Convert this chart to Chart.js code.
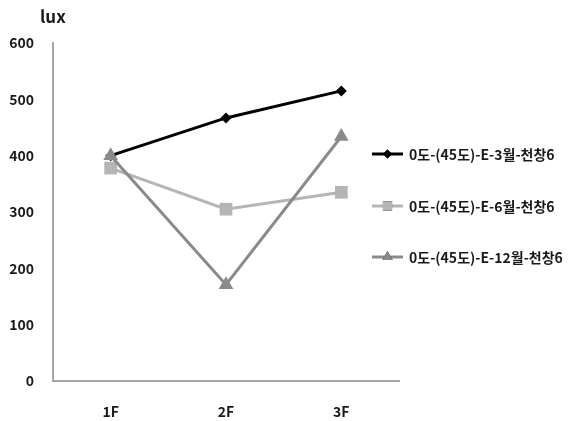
<!DOCTYPE html>
<html>
<head>
<meta charset="utf-8">
<script src="https://cdn.jsdelivr.net/npm/chart.js@4/dist/chart.umd.min.js"></script>
<style>
  html, body { margin: 0; padding: 0; background: #fff; }
  #wrap { width: 574px; height: 421px; position: relative; }
</style>
</head>
<body>
<div id="wrap"><canvas id="c" width="574" height="421"></canvas></div>
<script>
// Floors along the x axis
const floors = ['1F', '2F', '3F'];

// Illuminance (lux) per floor for each month
const march = [400, 467, 515];
const june = [378, 305, 335];
const december = [400, 171, 434];

const seriesNames = [
  '0도-(45도)-E-3월-천창6',
  '0도-(45도)-E-6월-천창6',
  '0도-(45도)-E-12월-천창6'
];

const yTicks = [0, 100, 200, 300, 400, 500, 600];

const FONT = '"Noto Sans CJK KR", "Noto Sans", sans-serif';
const TEXT = '#1a1a1a';

// Legend drawn at the right: a short line with the series marker, then the name
const sideLegend = {
  id: 'sideLegend',
  afterDraw(chart) {
    const ctx = chart.ctx;
    const rows = [154, 206, 257];
    const x0 = 372, x1 = 403, tx = 409;
    chart.data.datasets.forEach((ds) => {
      const y = rows[ds.row];
      ctx.save();
      ctx.strokeStyle = ds.borderColor;
      ctx.lineWidth = ds.borderWidth;
      ctx.beginPath();
      ctx.moveTo(x0, y);
      ctx.lineTo(x1, y);
      ctx.stroke();
      Chart.helpers.drawPoint(ctx, {
        pointStyle: ds.pointStyle,
        radius: ds.legendRadius,
        rotation: 0,
        borderWidth: 0
      }, (x0 + x1) / 2, y);
      ctx.fillStyle = ds.pointBackgroundColor;
      ctx.fill();
      ctx.fillStyle = TEXT;
      ctx.font = 'bold 14px ' + FONT;
      ctx.textBaseline = 'middle';
      ctx.textAlign = 'left';
      ctx.fillText(ds.label, tx, y + 1);
      ctx.restore();
    });
    // unit label above the value axis
    ctx.save();
    ctx.fillStyle = TEXT;
    ctx.font = 'bold 17px ' + FONT;
    ctx.textBaseline = 'middle';
    ctx.textAlign = 'left';
    ctx.fillText('lux', 40, 17);
    ctx.restore();
  }
};

function makeSet(row, data, color, style, radius, legendRadius) {
  return {
    label: seriesNames[row],
    row: row,
    data: data,
    borderColor: color,
    backgroundColor: color,
    pointBackgroundColor: color,
    pointBorderColor: color,
    pointBorderWidth: 0,
    borderWidth: 3,
    pointStyle: style,
    pointRadius: radius,
    pointHoverRadius: radius,
    legendRadius: legendRadius,
    tension: 0,
    fill: false
  };
}

new Chart(document.getElementById('c'), {
  type: 'line',
  data: {
    labels: floors,
    // first dataset is painted last, so December sits on top
    datasets: [
      makeSet(2, december, '#8a8a8a', 'triangle', 8.5, 6),
      makeSet(1, june, '#b5b5b5', 'rect', 9, 6.5),
      makeSet(0, march, '#000000', 'rectRot', 5.5, 4.5)
    ]
  },
  options: {
    responsive: false,
    animation: false,
    layout: { padding: { left: 0, right: 175, top: 43, bottom: 0 } },
    plugins: {
      legend: { display: false },
      tooltip: { enabled: false },
      title: { display: false }
    },
    scales: {
      x: {
        offset: true,
        grid: { display: true, color: 'transparent', drawTicks: false },
        border: { display: true, color: '#a6a6a6', width: 2 },
        ticks: {
          padding: 22,
          color: TEXT,
          font: { family: FONT, size: 14, weight: 'bold' }
        },
        afterFit(scale) { scale.height = 40; }
      },
      y: {
        min: 0,
        max: 600,
        grid: { display: true, color: 'transparent', drawTicks: false },
        border: { display: true, color: '#a6a6a6', width: 2 },
        afterBuildTicks(scale) { scale.ticks = yTicks.map(v => ({ value: v })); },
        ticks: {
          padding: 19,
          color: TEXT,
          font: { family: FONT, size: 14, weight: 'bold' }
        },
        afterFit(scale) { scale.width = 53; }
      }
    }
  },
  plugins: [sideLegend]
});
</script>
</body>
</html>
